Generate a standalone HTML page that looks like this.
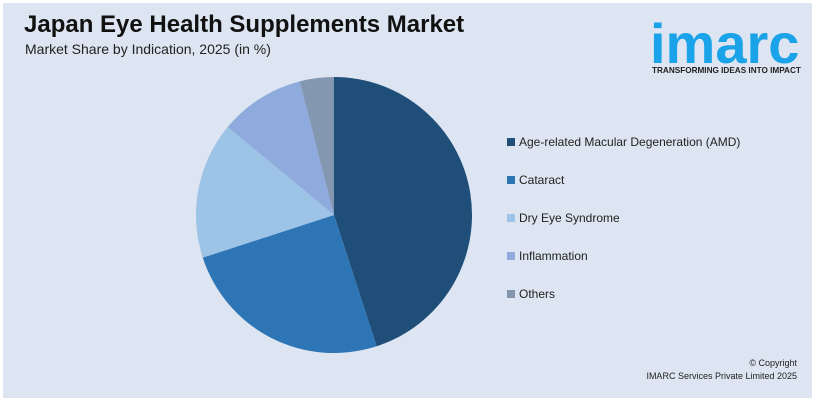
<!DOCTYPE html>
<html><head><meta charset="utf-8"><style>
body{margin:0;width:815px;height:401px;background:#fff;font-family:"Liberation Sans",Arial,sans-serif;overflow:hidden}
#panel{position:absolute;left:3px;top:3px;width:809px;height:395px;background:#dce5f1}
.t{position:absolute;white-space:nowrap}
.leg{position:absolute;left:507px;font-size:12px;color:#222}
.leg span{display:inline-block;width:8px;height:8px;margin-right:4px;vertical-align:0px}
</style></head><body>
<div id="panel"></div>
<div class="t" style="left:24px;top:11px;font-size:24px;font-weight:bold;color:#111">Japan Eye Health Supplements Market</div>
<div class="t" style="left:25px;top:41px;font-size:14px;color:#222">Market Share by Indication, 2025 (in %)</div>
<div class="t" style="left:650px;top:14px;font-size:56px;font-weight:bold;color:#1aa3e8;letter-spacing:0px;line-height:60px">imarc</div>
<div class="t" style="left:652px;top:66px;font-size:8.2px;font-weight:bold;color:#222">TRANSFORMING IDEAS INTO IMPACT</div>
<svg id="pie" width="815" height="401" style="position:absolute;left:0;top:0"></svg>
<div id="legend"></div>
<div class="t" style="right:18px;top:357px;font-size:9px;color:#222;text-align:right;line-height:13px">© Copyright<br>IMARC Services Private Limited 2025</div>
<script>
const categories=["Age-related Macular Degeneration (AMD)","Cataract","Dry Eye Syndrome","Inflammation","Others"];
const values=[45,25,16,10,4];
const colors=["#1f4e79","#2e75b6","#9dc3e6","#8faadc","#8497b0"];
const svg=document.getElementById('pie'),ns="http://www.w3.org/2000/svg";
const cx=334,cy=215,r=138,tot=values.reduce((a,b)=>a+b,0);
let a0=0;
values.forEach((v,i)=>{
 const a1=a0+v/tot*2*Math.PI;
 const p=document.createElementNS(ns,'path');
 const x0=cx+r*Math.sin(a0),y0=cy-r*Math.cos(a0),x1=cx+r*Math.sin(a1),y1=cy-r*Math.cos(a1);
 p.setAttribute('d',`M${cx},${cy}L${x0},${y0}A${r},${r} 0 ${a1-a0>Math.PI?1:0} 1 ${x1},${y1}Z`);
 p.setAttribute('fill',colors[i]);
 
 
 svg.appendChild(p);a0=a1;
});
const lg=document.getElementById('legend');
categories.forEach((c,i)=>{
 const d=document.createElement('div');d.className='leg';d.style.top=(135+i*38)+'px';
 
 
 d.innerHTML=`<span style="background:${colors[i]}"></span>${c}`;
 lg.appendChild(d);
});
</script>
</body></html>
